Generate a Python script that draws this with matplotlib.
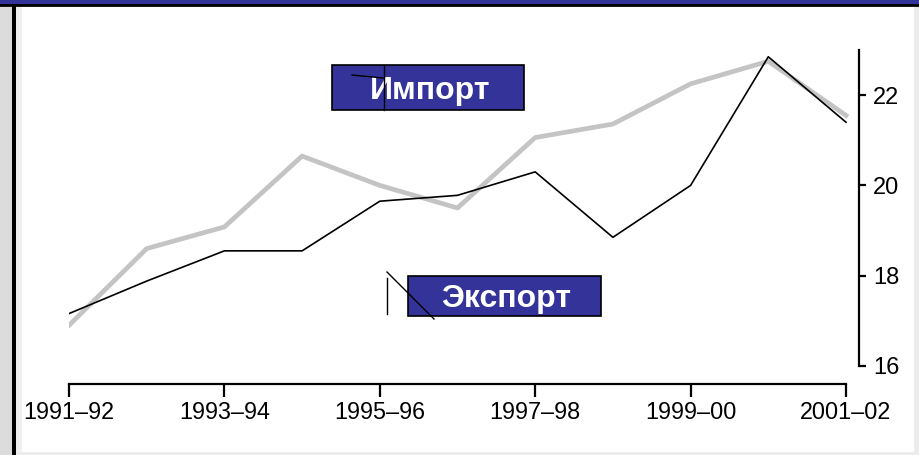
import matplotlib
matplotlib.use("Agg")
import matplotlib.pyplot as plt
from matplotlib.patches import Rectangle
from matplotlib.lines import Line2D

W, H = 920, 455

years = ["1991–92", "1992–93", "1993–94", "1994–95", "1995–96", "1996–97",
         "1997–98", "1998–99", "1999–00", "2000–01", "2001–02"]
export_vals = [17.16, 17.88, 18.55, 18.55, 19.65, 19.78, 20.3, 18.85, 20.0, 22.85, 21.4]
import_vals = [16.9, 18.6, 19.08, 20.65, 20.0, 19.5, 21.06, 21.36, 22.25, 22.75, 21.55]
ytick_vals = [16, 18, 20, 22]
label_import = "Импорт"
label_export = "Экспорт"

plt.rcParams['font.family'] = ['Liberation Sans', 'DejaVu Sans']

fig = plt.figure(figsize=(W / 100, H / 100), dpi=100)
fig.patch.set_facecolor("white")

def fx(x):
    return x / W

def fy(y):
    return 1 - y / H

# frame decoration
fig.patches.append(Rectangle((0, fy(5)), 1, 5 / H, transform=fig.transFigure,
                             facecolor="#333399", edgecolor="none", zorder=0))
fig.lines.append(Line2D([0, 1], [fy(5), fy(5)], transform=fig.transFigure,
                        color="black", lw=2))
fig.patches.append(Rectangle((0, 0), fx(12), fy(5), transform=fig.transFigure,
                             facecolor="#dcdcdc", edgecolor="none", zorder=0))
fig.patches.append(Rectangle((fx(12), 0), fx(4), fy(5), transform=fig.transFigure,
                             facecolor="black", edgecolor="none", zorder=0))
fig.patches.append(Rectangle((fx(16), 0), fx(6), fy(5), transform=fig.transFigure,
                             facecolor="#f0f0f0", edgecolor="none", zorder=0))
fig.patches.append(Rectangle((fx(914), 0), fx(6), fy(5), transform=fig.transFigure,
                             facecolor="#ececec", edgecolor="none", zorder=0))
fig.patches.append(Rectangle((fx(16), 0), fx(898), 3 / H, transform=fig.transFigure,
                             facecolor="#ececec", edgecolor="none", zorder=0))

ax = fig.add_axes([fx(69), fy(384), fx(859) - fx(69), fy(50) - fy(384)])
ax.set_facecolor("none")
x = list(range(len(years)))
ax.plot(x, import_vals, color="#c4c4c4", lw=3.4, solid_joinstyle="round", zorder=2)
ax.plot(x, export_vals, color="black", lw=1.2, zorder=3)

ax.set_xlim(0, 10 * 790 / 777)
ax.set_ylim(15.6, 23.0)
ax.spines["top"].set_visible(False)
ax.spines["left"].set_visible(False)
ax.spines["bottom"].set_bounds(0, 10)
ax.spines["right"].set_bounds(16, 23)
for s in ("bottom", "right"):
    ax.spines[s].set_linewidth(1.6)
ax.yaxis.tick_right()
ax.set_yticks(ytick_vals)
ax.set_yticklabels([str(v) for v in ytick_vals])
ax.set_xticks(x[::2])
ax.set_xticklabels(years[::2])
ax.tick_params(axis="x", direction="out", length=9, width=1.6, labelsize=16.8, pad=3)
ax.tick_params(axis="y", direction="out", length=5, width=1.6, labelsize=17, pad=5)

# label boxes
def label_box(x0, y0, x1, y1, text):
    fig.patches.append(Rectangle((fx(x0), fy(y1)), fx(x1 - x0), (y1 - y0) / H,
                                 transform=fig.transFigure, facecolor="#333399",
                                 edgecolor="black", lw=1.2, zorder=5))
    fig.text(fx((x0 + x1) / 2 + 2), fy((y0 + y1) / 2), text, color="white",
             fontsize=23, fontweight="bold", ha="center", va="center_baseline", zorder=6)

label_box(332, 65, 524, 110, label_import)
label_box(408, 276, 601, 316, label_export)

# leader line remnants
for (xa, ya, xb, yb) in [(352, 75, 383, 78), (384, 65, 384, 110),
                         (387, 278, 387, 314), (387, 272, 434, 319)]:
    fig.lines.append(Line2D([fx(xa), fx(xb)], [fy(ya), fy(yb)],
                            transform=fig.transFigure, color="black", lw=1.0, zorder=7))

fig.savefig("out.png", dpi=100)
